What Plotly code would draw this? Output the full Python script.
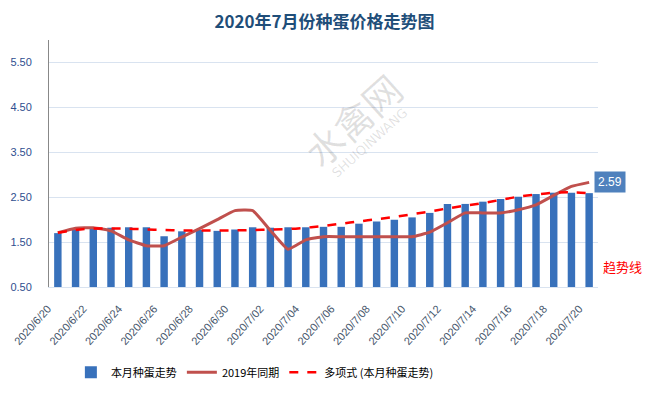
import plotly.graph_objects as go

dates = ["2020/6/%d" % d for d in range(20, 31)] + ["2020/7/%02d" % d for d in range(1, 21)]
tick_labels = dates[::2]

bar_values = [1.70, 1.78, 1.83, 1.82, 1.83, 1.83, 1.63, 1.74, 1.77, 1.75, 1.78,
              1.83, 1.82, 1.83, 1.83, 1.84, 1.84, 1.91, 1.96, 2.00, 2.05, 2.15,
              2.35, 2.35, 2.40, 2.46, 2.51, 2.57, 2.60, 2.60, 2.59]
last_year = [1.71, 1.81, 1.82, 1.75, 1.55, 1.42, 1.42, 1.61, 1.80, 2.00, 2.20,
             2.20, 1.76, 1.34, 1.55, 1.62, 1.62, 1.62, 1.62, 1.62, 1.62, 1.72,
             1.93, 2.15, 2.15, 2.15, 2.22, 2.33, 2.54, 2.74, 2.83]
trend = [1.71, 1.77, 1.80, 1.80, 1.80, 1.78, 1.77, 1.76, 1.76, 1.76, 1.76,
         1.77, 1.78, 1.79, 1.82, 1.86, 1.91, 1.96, 2.01, 2.06, 2.12, 2.18,
         2.25, 2.31, 2.37, 2.44, 2.51, 2.56, 2.60, 2.61, 2.59]
y_ticks = [0.5, 1.5, 2.5, 3.5, 4.5, 5.5]

font = "Noto Sans CJK SC"

fig = go.Figure()
fig.add_trace(go.Bar(x=dates, y=bar_values, name="本月种蛋走势",
                     marker=dict(color="#3871BB", line=dict(width=0)), width=0.42))
fig.add_trace(go.Scatter(x=dates, y=last_year, name="2019年同期", mode="lines",
                         line=dict(color="#C0504D", width=3, shape="spline", smoothing=0.4)))
fig.add_trace(go.Scatter(x=dates, y=trend, name="多项式 (本月种蛋走势)", mode="lines",
                         line=dict(color="#FF0000", width=2.5, dash="dash", shape="spline")))

fig.add_annotation(x=dates[-1], y=last_year[-1], text="2.59", showarrow=False,
                   xanchor="left", xshift=5, bgcolor="#4F81BD",
                   font=dict(color="white", size=12, family="Liberation Sans"),
                   borderpad=3)
fig.add_annotation(xref="paper", yref="paper", x=1.084, y=0.081, text="趋势线",
                   showarrow=False, xanchor="right", yanchor="middle",
                   font=dict(color="#FF0000", size=13, family=font))
fig.add_annotation(xref="paper", yref="paper", x=0.552, y=0.68, text="水禽网",
                   showarrow=False, textangle=-42, xanchor="center", yanchor="middle",
                   font=dict(color="rgba(0,0,0,0.12)", size=38, family=font))
fig.add_annotation(xref="paper", yref="paper", x=0.585, y=0.583, text="SHUIQINWANG",
                   showarrow=False, textangle=-42, xanchor="center", yanchor="middle",
                   font=dict(color="rgba(0,0,0,0.12)", size=13, family="DejaVu Sans"))

fig.update_layout(
    width=649, height=393,
    margin=dict(l=49, r=51, t=40, b=106, autoexpand=False),
    paper_bgcolor="white", plot_bgcolor="white",
    title=dict(text="<b>2020年7月份种蛋价格走势图</b>", x=0.5, xanchor="center",
               y=0.945, yanchor="middle",
               font=dict(family=font, size=17, color="#1F4E79")),
    bargap=0.58,
    showlegend=True,
    legend=dict(orientation="h", x=0.375, xanchor="center", y=-0.345, yanchor="middle",
                font=dict(family=font, size=11, color="black"), traceorder="normal"),
    font=dict(family=font),
)
fig.update_xaxes(type="category", range=[-0.5, 30.5], autorange=False,
                 tickmode="array", tickvals=tick_labels, ticktext=tick_labels,
                 tickangle=-48, tickfont=dict(size=11, color="#44546A", family="Liberation Sans"),
                 ticklabelshift=-10, ticklabelstandoff=10,
                 showgrid=False, showline=True, linecolor="#D9E3F0", ticks="", automargin=False)
fig.update_yaxes(range=[0.5, 6.0], tickvals=y_ticks, ticktext=["%.2f" % v for v in y_ticks],
                 tickfont=dict(size=11, color="#2F4F8F", family="Liberation Sans"),
                 showgrid=True, gridcolor="#D9E3F0", gridwidth=1, automargin=False,
                 showline=True, linecolor="#888888", linewidth=1, zeroline=False, ticks="",
                 ticklabelstandoff=14)

fig.write_html("out.html", config={"displayModeBar": False},
               post_script="document.body.style.margin='0';")
